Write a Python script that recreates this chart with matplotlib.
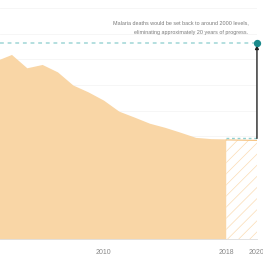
import numpy as np
import matplotlib.pyplot as plt

plt.rcParams['font.family'] = ['Liberation Sans', 'DejaVu Sans']
plt.rcParams['hatch.linewidth'] = 0.5

years = [2003, 2004, 2005, 2006, 2007, 2008, 2009, 2010, 2011, 2012,
         2013, 2014, 2015, 2016, 2017, 2018]
deaths = [695, 719, 667, 680, 651, 600, 573, 541, 498, 475,
          451, 435, 416, 396, 391, 390]  # thousands
proj_years = [2018, 2020]
proj_base = [386, 384]
disrupted_2020 = 765
tick_years = [2010, 2018, 2020]
note = ("Malaria deaths would be set back to around 2000 levels,\n"
        "eliminating approximately 20 years of progress.")

orange = '#f9d6a6'
teal = '#1b8a8c'

fig = plt.figure(figsize=(2.63, 2.63), dpi=100)
ax = fig.add_axes([0, 0.0913, 0.977, 0.8783])

ax.fill_between(years, deaths, 0, color=orange, lw=0, zorder=2)
ax.fill_between(proj_years, proj_base, 0, facecolor='white',
                edgecolor='#fbdcb4', hatch='///', lw=0, zorder=2)
ax.plot(proj_years, proj_base, color='#f6c27f', lw=0.8, zorder=3)
ax.plot(proj_years, [deaths[-1] + 4] * 2, color='#8fcfcf', lw=1,
        ls=(0, (2, 2)), zorder=3)

ax.axhline(disrupted_2020, color='#9fd6d6', lw=1.1, ls=(0, (2.5, 2.5)), zorder=3)
ax.annotate('', xy=(2020, disrupted_2020 - 10), xytext=(2020, deaths[-1] + 2),
            arrowprops=dict(arrowstyle='-|>', color='#222222', lw=1,
                            mutation_scale=5, shrinkA=0, shrinkB=0),
            zorder=4, annotation_clip=False)
ax.scatter([2020], [disrupted_2020], s=18, color=teal, zorder=5, clip_on=False)

ax.text(2019.45, 823, note, ha='right', va='center', fontsize=3.9,
        color='#7a7a7a', linespacing=2.0)

for v in range(100, 1000, 100):
    ax.axhline(v, color='#f5f5f5', lw=0.6, zorder=1)
ax.axvline(2020, color='#dddddd', lw=0.6, zorder=1)

ax.set_xlim(2003.25, 2020)
ax.set_ylim(0, 900)
ax.set_xticks(tick_years)
ax.set_xticklabels([str(y) for y in tick_years], fontsize=5.0, color='#888888')
ax.tick_params(axis='x', length=0, pad=7)
ax.set_yticks([])
for s in ['top', 'left', 'right']:
    ax.spines[s].set_visible(False)
ax.spines['bottom'].set_color('#dddddd')
ax.spines['bottom'].set_linewidth(0.6)

fig.savefig('out.png', dpi=100)
